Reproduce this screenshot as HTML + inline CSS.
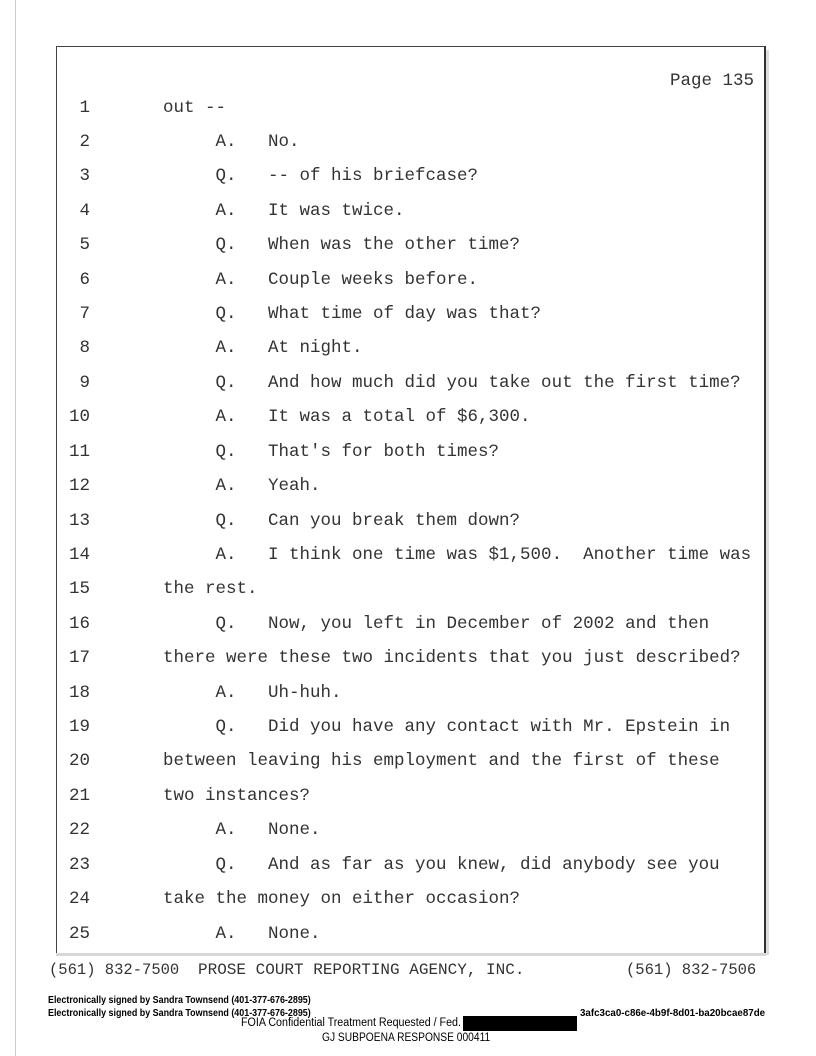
<!DOCTYPE html>
<html><head><meta charset="utf-8">
<style>
body{margin:0;width:816px;height:1056px;background:#fff;position:relative;overflow:hidden}
.edge{position:absolute;left:15px;top:0;width:1px;height:1056px;background:#ccc}
.box{position:absolute;left:56px;top:46px;width:707px;height:906px;border:1.5px solid #444;border-right:2px solid #333}
.boxb{position:absolute;left:56px;top:953px;width:710px;height:3px;background:#d8d8d8}
.boxr{position:absolute;left:766px;top:50px;width:3px;height:905px;background:#ddd}
.m{font-family:"Liberation Mono",monospace;font-size:17.5px;color:#333;position:absolute;white-space:pre;line-height:20px}
.n{position:absolute;width:40px;left:50px;text-align:right}
.t{left:163px}
.s{font-family:"Liberation Sans",sans-serif;font-size:10.5px;font-weight:bold;position:absolute;white-space:pre;color:#000;transform:scaleX(0.85);transform-origin:left}
.f{font-family:"Liberation Sans",sans-serif;font-size:11.5px;position:absolute;white-space:pre;color:#000;transform-origin:left}
</style></head><body>
<div class="edge"></div>
<div class="box"></div><div class="boxb"></div><div class="boxr"></div>
<div class="m" style="left:670px;top:71px">Page 135</div>
<div id="lines"></div>
<div class="m" style="left:49px;top:960px;font-size:15.5px">(561) 832-7500</div>
<div class="m" style="left:198px;top:960px;font-size:16px">PROSE COURT REPORTING AGENCY, INC.</div>
<div class="m" style="left:626px;top:960px;font-size:15.5px">(561) 832-7506</div>
<div class="s" style="left:48px;top:994px">Electronically signed by Sandra Townsend (401-377-676-2895)</div>
<div class="s" style="left:48px;top:1007px">Electronically signed by Sandra Townsend (401-377-676-2895)</div>
<div class="s" style="left:580px;top:1007px;transform:scaleX(0.93)">3afc3ca0-c86e-4b9f-8d01-ba20bcae87de</div>
<div class="f" style="left:241px;top:1017px;transform:scaleX(0.93)">FOIA Confidential Treatment Requested / Fed.</div>
<div style="position:absolute;left:463px;top:1016px;width:114px;height:15px;background:#000"></div>
<div class="f" style="left:322px;top:1032px;transform:scaleX(0.89)">GJ SUBPOENA RESPONSE 000411</div>
<script>
var L=["out --","     A.   No.","     Q.   -- of his briefcase?","     A.   It was twice.","     Q.   When was the other time?","     A.   Couple weeks before.","     Q.   What time of day was that?","     A.   At night.","     Q.   And how much did you take out the first time?","     A.   It was a total of $6,300.","     Q.   That's for both times?","     A.   Yeah.","     Q.   Can you break them down?","     A.   I think one time was $1,500.  Another time was","the rest.","     Q.   Now, you left in December of 2002 and then","there were these two incidents that you just described?","     A.   Uh-huh.","     Q.   Did you have any contact with Mr. Epstein in","between leaving his employment and the first of these","two instances?","     A.   None.","     Q.   And as far as you knew, did anybody see you","take the money on either occasion?","     A.   None."];
var h="";for(var i=0;i<25;i++){var y=97.5+i*34.42;h+='<div class="m n" style="top:'+y+'px">'+(i+1)+'</div><div class="m t" style="top:'+y+'px">'+L[i].replace(/&/g,"&amp;")+'</div>';}
document.getElementById("lines").innerHTML=h;
</script>
</body></html>
